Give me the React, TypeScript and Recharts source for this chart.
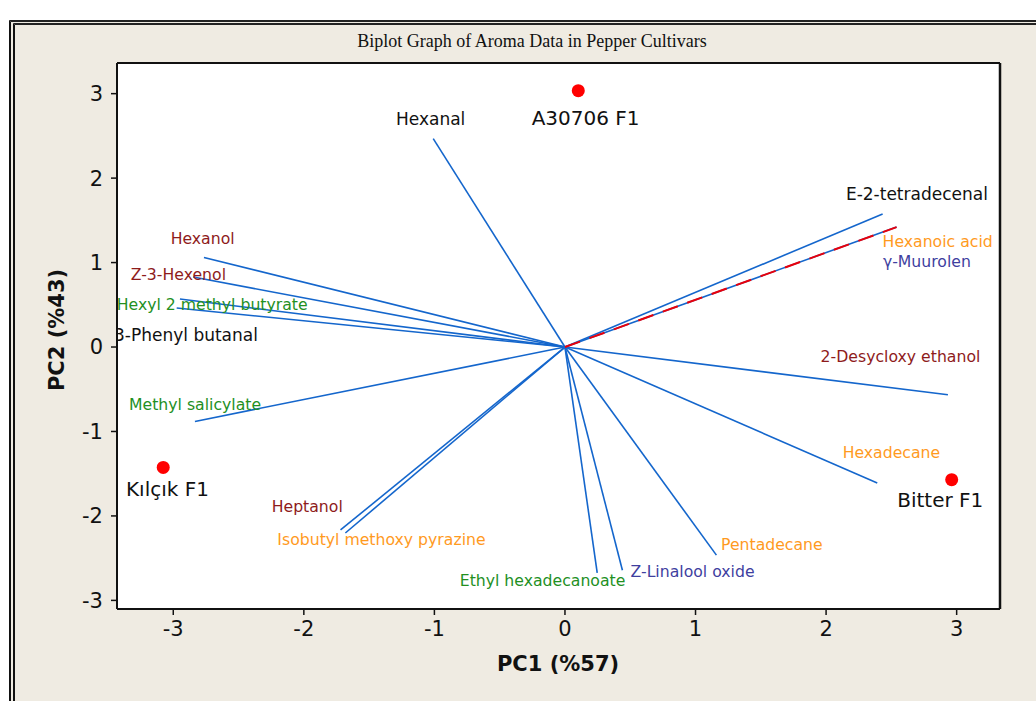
import React from 'react';
import {
  ScatterChart,
  Scatter,
  XAxis,
  YAxis,
  ReferenceLine,
  CartesianGrid,
} from 'recharts';

// ---- data ----
const vectorNames = [
  'Hexanal',
  'E-2-tetradecenal',
  'γ-Muurolen',
  '2-Desycloxy ethanol',
  'Hexadecane',
  'Pentadecane',
  'Z-Linalool oxide',
  'Ethyl hexadecanoate',
  'Isobutyl methoxy pyrazine',
  'Heptanol',
  'Methyl salicylate',
  '3-Phenyl butanal',
  'Hexyl 2 methyl butyrate',
  'Z-3-Hexenol',
  'Hexanol',
];
const vectorPC1 = [-1.009, 2.433, 2.54, 2.933, 2.392, 1.16, 0.44, 0.247, -1.719, -1.682, -2.834, -2.974, -2.949, -2.847, -2.765];
const vectorPC2 = [2.467, 1.575, 1.42, -0.566, -1.61, -2.464, -2.643, -2.673, -2.166, -2.202, -0.881, 0.462, 0.568, 0.829, 1.061];

const dashedName = 'Hexanoic acid';
const dashedPC1 = 2.54;
const dashedPC2 = 1.42;

const cultivars = ['A30706 F1', 'Kılçık F1', 'Bitter F1'];
const cultivarPC1 = [0.102, -3.077, 2.962];
const cultivarPC2 = [3.035, -1.426, -1.571];

const xTicks = [-3, -2, -1, 0, 1, 2, 3];
const yTicks = [-3, -2, -1, 0, 1, 2, 3];

// ---- label layout (text start, baseline; in PC units) ----
const labelTexts = [
  'Hexanal', 'A30706 F1', 'E-2-tetradecenal', 'Hexanoic acid', 'γ-Muurolen',
  '2-Desycloxy ethanol', 'Hexadecane', 'Bitter F1', 'Pentadecane', 'Z-Linalool oxide',
  'Ethyl hexadecanoate', 'Isobutyl methoxy pyrazine', 'Heptanol', 'Kılçık F1',
  'Methyl salicylate', '3-Phenyl butanal', 'Hexyl 2 methyl butyrate', 'Z-3-Hexenol', 'Hexanol',
];
const labelKinds = [
  'black', 'big', 'black', 'orange', 'purple',
  'darkred', 'orange', 'big', 'orange', 'purple',
  'green', 'orange', 'darkred', 'big',
  'green', 'black', 'green', 'darkred', 'darkred',
];
const labelPC1 = [-1.294, -0.255, 2.152, 2.433, 2.435, 1.958, 2.127, 2.545, 1.195, 0.502, -0.806, -2.203, -2.246, -3.362, -3.339, -3.454, -3.433, -3.326, -3.02];
const labelPC2 = [2.632, 2.632, 1.736, 1.179, 0.943, -0.182, -1.314, -1.895, -2.4, -2.726, -2.83, -2.348, -1.957, -1.769, -0.742, 0.066, 0.433, 0.797, 1.223];

// ---- styles ----
const kindStyle: Record<string, { fill: string; size: number }> = {
  black: { fill: '#111111', size: 17 },
  big: { fill: '#111111', size: 20 },
  orange: { fill: '#FF9A1E', size: 15.7 },
  purple: { fill: '#3F3F9F', size: 15.7 },
  darkred: { fill: '#8E1B1B', size: 15.7 },
  green: { fill: '#23901F', size: 15.7 },
};

const BLUE = '#1466CC';
const BEIGE = '#EFEBE2';
const FONT = '"DejaVu Sans", Verdana, sans-serif';

const X_DOMAIN: [number, number] = [-3.431, 3.332];
const Y_DOMAIN: [number, number] = [-3.102, 3.363];

const pointData = cultivars.map((name, i) => ({ name, x: cultivarPC1[i], y: cultivarPC2[i] }));
const labelData = labelTexts.map((text, i) => ({ text, kind: labelKinds[i], x: labelPC1[i], y: labelPC2[i] }));

const LabelShape = (props: any) => {
  const { cx, cy, payload } = props;
  const st = kindStyle[payload.kind];
  return (
    <text x={cx} y={cy} fill={st.fill} fontSize={st.size} fontFamily={FONT}>
      {payload.text}
    </text>
  );
};

const PointShape = (props: any) => {
  const { cx, cy } = props;
  return <circle cx={cx} cy={cy} r={6.5} fill="#FF0000" />;
};

const tickStyle = { fontSize: 21, fill: '#111', fontFamily: FONT };

export default function App() {
  return (
    <div style={{ position: 'absolute', left: 0, top: 0, width: 1036, height: 701, background: '#fff', overflow: 'hidden' }}>
      <div
        style={{
          position: 'absolute',
          left: 9,
          top: 20,
          width: 1100,
          height: 800,
          background: BEIGE,
          borderLeft: '6px double #111',
          borderTop: '5px double #222',
        }}
      />
      <div
        style={{
          position: 'absolute',
          left: 0,
          width: 1064,
          top: 30,
          textAlign: 'center',
          fontFamily: '"Liberation Serif", "Times New Roman", serif',
          fontSize: 18,
          color: '#111',
          lineHeight: '22px',
        }}
      >
        Biplot Graph of Aroma Data in Pepper Cultivars
      </div>
      <div
        style={{
          position: 'absolute',
          left: 458,
          width: 200,
          top: 651,
          textAlign: 'center',
          fontFamily: FONT,
          fontWeight: 'bold',
          fontSize: 21,
          color: '#111',
          lineHeight: '26px',
        }}
      >
        PC1 (%57)
      </div>
      <div
        style={{
          position: 'absolute',
          left: 57 - 100,
          width: 200,
          top: 330 - 13,
          textAlign: 'center',
          fontFamily: FONT,
          fontWeight: 'bold',
          fontSize: 21,
          color: '#111',
          lineHeight: '26px',
          transform: 'rotate(-90deg)',
        }}
      >
        PC2 (%43)
      </div>
      <div style={{ position: 'absolute', left: 0, top: 0 }}>
        <ScatterChart width={1036} height={701} margin={{ top: 62, right: 35, bottom: 52, left: 57 }}>
          <CartesianGrid fill="#FFFFFF" horizontal={false} vertical={false} stroke="none" />
          <XAxis
            type="number"
            dataKey="x"
            domain={X_DOMAIN}
            ticks={xTicks}
            allowDataOverflow
            height={40}
            tickSize={6}
            tickMargin={6}
            tick={tickStyle}
            tickLine={{ stroke: '#111', strokeWidth: 1.5 }}
            axisLine={{ stroke: '#111', strokeWidth: 2 }}
          />
          <XAxis
            xAxisId="top"
            orientation="top"
            type="number"
            domain={X_DOMAIN}
            allowDataOverflow
            height={1}
            tick={false}
            tickLine={false}
            axisLine={{ stroke: '#111', strokeWidth: 2 }}
          />
          <YAxis
            type="number"
            dataKey="y"
            domain={Y_DOMAIN}
            ticks={yTicks}
            allowDataOverflow
            width={60}
            tickSize={6}
            tickMargin={8}
            tick={tickStyle}
            tickLine={{ stroke: '#111', strokeWidth: 1.5 }}
            axisLine={{ stroke: '#111', strokeWidth: 2 }}
          />
          <YAxis
            yAxisId="right"
            orientation="right"
            type="number"
            domain={Y_DOMAIN}
            allowDataOverflow
            width={1}
            tick={false}
            tickLine={false}
            axisLine={{ stroke: '#111', strokeWidth: 2.5 }}
          />
          {vectorNames.map((name, i) => (
            <ReferenceLine
              key={name}
              segment={[
                { x: 0, y: 0 },
                { x: vectorPC1[i], y: vectorPC2[i] },
              ]}
              stroke={BLUE}
              strokeWidth={1.6}
              ifOverflow="visible"
            />
          ))}
          <ReferenceLine
            key={dashedName}
            segment={[
              { x: 0, y: 0 },
              { x: dashedPC1, y: dashedPC2 },
            ]}
            stroke="#E8000B"
            strokeWidth={2}
            strokeDasharray="16 10"
            ifOverflow="visible"
          />
          <Scatter data={labelData} shape={LabelShape} isAnimationActive={false} />
          <Scatter data={pointData} shape={PointShape} isAnimationActive={false} />
        </ScatterChart>
      </div>
    </div>
  );
}
